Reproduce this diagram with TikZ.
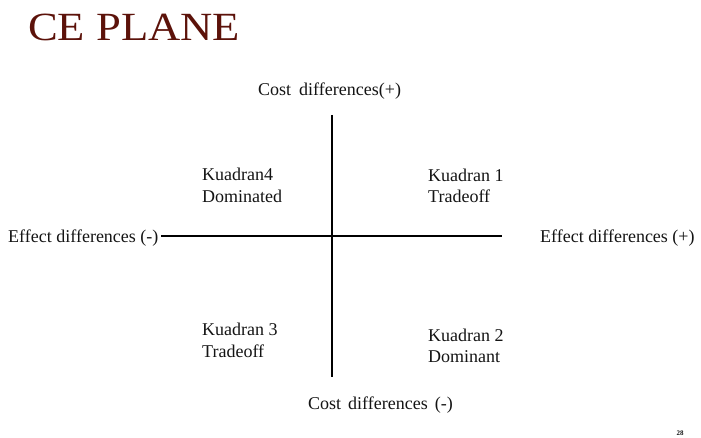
\documentclass[tikz,border=0pt]{standalone}
\usepackage{fontspec}
\setmainfont{Liberation Serif}
\definecolor{titlered}{RGB}{92,18,10}
\definecolor{txt}{RGB}{20,20,20}
\begin{document}
\begin{tikzpicture}[x=1pt,y=-1pt,
  lbl/.style={inner sep=0pt, font=\fontsize{18}{21}\selectfont, text=txt},
  quad/.style={lbl, anchor=base west, align=left},
  axis/.style={line width=1.3pt, draw=black}]
\useasboundingbox (0,0) rectangle (701,438);
\node[anchor=base west, inner sep=0pt, text=titlered, font=\fontsize{40}{46}\selectfont] (title) at (28,41) {\scalebox{1.115}[1]{CE PLANE}};
\node[lbl, anchor=base west] (costp) at (258,96) {Cost\hspace{8pt}differences(+)};
\node[lbl, anchor=base west] (costm) at (308,409) {Cost\hspace{7pt}differences\hspace{7pt}(-)};
\node[lbl, anchor=base west] (effm) at (8,243) {Effect differences (-)};
\node[lbl, anchor=base west] (effp) at (540,243) {Effect differences (+)};
\node[quad] (q4) at (202,181) {Kuadran4};
\node[quad] (q4b) at (202,203) {Dominated};
\node[quad] (q1) at (428,182) {Kuadran 1};
\node[quad] (q1b) at (428,203) {Tradeoff};
\node[quad] (q3) at (202,335) {Kuadran 3};
\node[quad] (q3b) at (202,357) {Tradeoff};
\node[quad] (q2) at (428,341) {Kuadran 2};
\node[quad] (q2b) at (428,362) {Dominant};
\node[anchor=base, inner sep=0pt, font=\fontsize{7}{8}\selectfont\bfseries, text=txt] (pg) at (680,435) {28};
\coordinate (vt) at (332,115);
\coordinate (vb) at (332,377);
\coordinate (hl) at (161,236);
\coordinate (hr) at (502,236);
\draw[axis] (vt) -- (vb);
\draw[axis] (hl) -- (hr);
\end{tikzpicture}
\end{document}
